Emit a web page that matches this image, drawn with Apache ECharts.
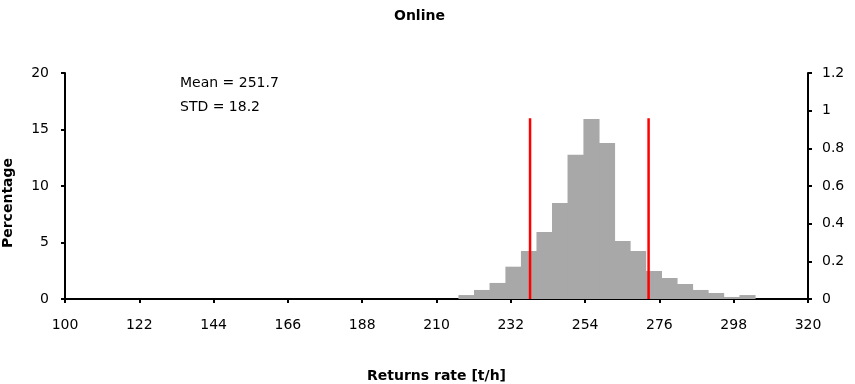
<!DOCTYPE html>
<html>
<head>
<meta charset="utf-8">
<script src="https://cdn.jsdelivr.net/npm/echarts@6/dist/echarts.min.js"></script>
<style>html,body{margin:0;padding:0;background:#fff;}#c{width:855px;height:384px;}</style>
</head>
<body>
<div id="c"></div>
<script>
// Histogram bin edges (t/h)
const binEdges = [216.5, 221.1, 225.7, 230.4, 235.0, 239.6, 244.2, 248.8, 253.5, 258.1, 262.7, 267.3, 271.9, 276.6, 281.2, 285.8, 290.4, 295.0, 299.7, 304.3];
// Percentage in each bin
const binPercent = [0.35, 0.8, 1.42, 2.86, 4.25, 5.93, 8.5, 12.77, 15.93, 13.8, 5.13, 4.25, 2.48, 1.86, 1.33, 0.8, 0.53, 0.18, 0.35];
// Red vertical marker lines (x positions and height in percent)
const markerX = [237.7, 272.8];
const markerHeight = 16;
const xTicks = {min: 100, max: 320, interval: 22};
const yLeftTicks = {min: 0, max: 20, interval: 5};
const yRightTicks = {min: 0, max: 1.2, interval: 0.2};
const titleText = 'Online';
const xName = 'Returns rate [t/h]';
const yName = 'Percentage';
const statsLines = ['Mean = 251.7', 'STD = 18.2'];

const font = 'DejaVu Sans';
const histData = binPercent.map((v, i) => [binEdges[i], binEdges[i + 1], v]);

const chart = echarts.init(document.getElementById('c'), null, {renderer: 'canvas'});
const axisCommon = {
  axisLine: {show: true, lineStyle: {color: '#000', width: 2}},
  axisTick: {show: true, length: 4, lineStyle: {color: '#000', width: 2}},
  splitLine: {show: false},
  axisLabel: {color: '#000', fontFamily: font, fontSize: 14}
};
const series = [{
  type: 'custom',
  yAxisIndex: 0,
  renderItem: function (params, api) {
    const p0 = api.coord([api.value(0), api.value(2)]);
    const p1 = api.coord([api.value(1), 0]);
    return {
      type: 'rect',
      shape: {x: p0[0], y: p0[1], width: p1[0] - p0[0] + 0.6, height: p1[1] - p0[1]},
      style: {fill: '#a8a8a8'}
    };
  },
  encode: {x: [0, 1], y: 2},
  data: histData,
  silent: true,
  z: 1
}];
markerX.forEach(function (mx) {
  series.push({
    type: 'line',
    yAxisIndex: 0,
    data: [[mx, 0], [mx, markerHeight]],
    showSymbol: false,
    symbol: 'none',
    lineStyle: {color: '#ff0000', width: 2.5},
    silent: true,
    z: 3
  });
});

chart.setOption({
  animation: false,
  backgroundColor: '#fff',
  title: {
    text: titleText, left: 389, top: 4,
    textStyle: {fontFamily: font, fontSize: 14, fontWeight: 'bold', color: '#000'}
  },
  grid: {left: 65, right: 47, top: 73, bottom: 85, containLabel: false, outerBoundsMode: 'none'},
  xAxis: Object.assign({}, axisCommon, {
    type: 'value', min: xTicks.min, max: xTicks.max, interval: xTicks.interval,
    name: xName, nameLocation: 'middle', nameGap: 70,
    nameTextStyle: {fontFamily: font, fontSize: 14, fontWeight: 'bold', color: '#000'},
    axisLabel: {color: '#000', fontFamily: font, fontSize: 14, margin: 19}
  }),
  yAxis: [
    Object.assign({}, axisCommon, {
      type: 'value', min: yLeftTicks.min, max: yLeftTicks.max, interval: yLeftTicks.interval,
      name: yName, nameLocation: 'middle', nameGap: 50, nameRotate: 90,
      nameTextStyle: {fontFamily: font, fontSize: 14, fontWeight: 'bold', color: '#000', padding: [0, 34, 0, 0]},
      axisLabel: {color: '#000', fontFamily: font, fontSize: 14, margin: 16}
    }),
    Object.assign({}, axisCommon, {
      type: 'value', position: 'right', min: yRightTicks.min, max: yRightTicks.max, interval: yRightTicks.interval,
      axisLabel: {color: '#000', fontFamily: font, fontSize: 14, margin: 14}
    })
  ],
  graphic: statsLines.map(function (t, i) {
    return {
      type: 'text', left: 180, top: 76 + i * 24,
      style: {text: t, fontFamily: font, fontSize: 14, fill: '#000'}
    };
  }),
  series: series
});
</script>
</body>
</html>
